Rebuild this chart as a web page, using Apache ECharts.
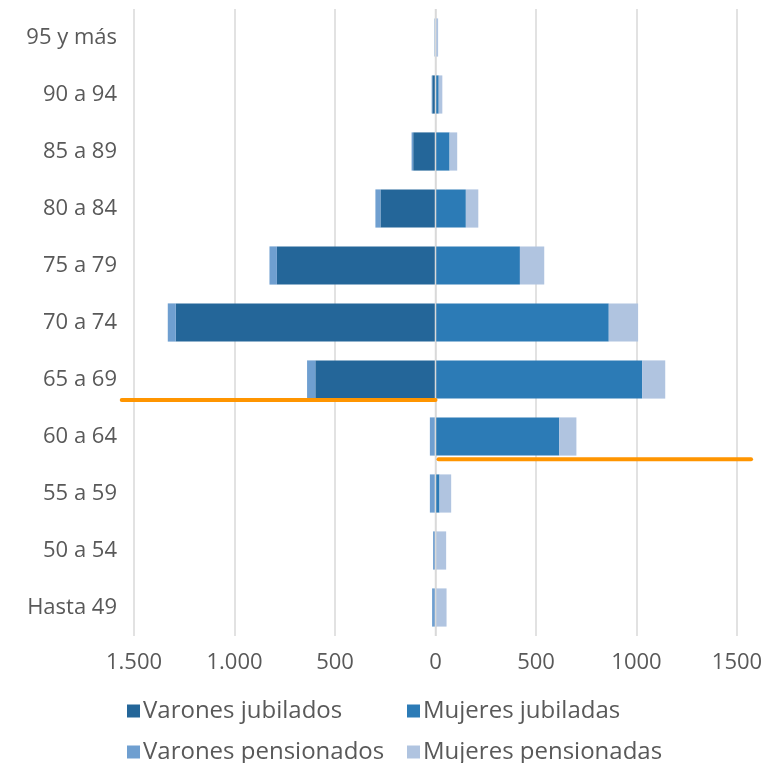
<!DOCTYPE html>
<html><head><meta charset="utf-8">
<script src="https://cdn.jsdelivr.net/npm/echarts@6/dist/echarts.min.js"></script>
<style>html,body{margin:0;padding:0;background:#fff}#c{width:767px;height:763px}</style>
</head><body><div id="c"></div>
<script>
const categories = ['95 y más','90 a 94','85 a 89','80 a 84','75 a 79','70 a 74','65 a 69','60 a 64','55 a 59','50 a 54','Hasta 49'];
const varonesJubilados = [0, 16, 111, 274, 789, 1292, 598, 3, 3, 2, 2];
const varonesPensionados = [5, 3, 8, 25, 37, 40, 41, 25, 25, 10, 15];
const mujeresJubiladas = [2, 16, 70, 151, 420, 862, 1028, 616, 20, 3, 3];
const mujeresPensionadas = [11, 18, 38, 62, 121, 146, 115, 85, 58, 50, 52];
const xTicks = {min: -1500, max: 1500, interval: 500};
// retirement-age reference lines: [x, rowPosition]
const lineVarones = [[-1561, 6.86], [0, 6.86]];
const lineMujeres = [[15, 7.90], [1570, 7.90]];
const centerLine = [[0, 0], [0, 11]];

const FONT = 'Open Sans';
const GREY = '#595959';
function legendAt(name, left, top) {
  return {left: left, top: top, padding: 0, itemWidth: 13, itemHeight: 13, itemGap: 0, icon: 'rect',
    textStyle: {fontFamily: FONT, fontSize: 24, color: GREY, lineHeight: 26, padding: [0, 0, 0, -2]}, data: [name]};
}
function refLine(pts) {
  return {type: 'custom', yAxisIndex: 1, data: pts, silent: true, z: 6,
    renderItem: function (params, api) {
      if (params.dataIndex !== 0) return null;
      const a = api.coord(pts[0]), b = api.coord(pts[1]);
      return {type: 'line', shape: {x1: a[0], y1: a[1], x2: b[0], y2: b[1]},
        style: {stroke: '#ff9500', lineWidth: 4, lineCap: 'round'}};
    }};
}
const chart = echarts.init(document.getElementById('c'));
chart.setOption({
  animation: false,
  grid: {left: 134, right: 30, top: 9, bottom: 127, containLabel: false},
  legend: [
    legendAt('Varones jubilados', 127, 698),
    legendAt('Mujeres jubiladas', 407, 698),
    legendAt('Varones pensionados', 127, 739),
    legendAt('Mujeres pensionadas', 407, 739)
  ],
  xAxis: {
    type: 'value', min: xTicks.min, max: xTicks.max, interval: xTicks.interval,
    axisLine: {show: false}, axisTick: {show: false},
    splitLine: {lineStyle: {color: '#d9d9d9', width: 1.5}},
    axisLabel: {fontFamily: FONT, fontSize: 22, color: GREY, margin: 16,
      formatter: v => v < 0 ? String(-v).replace(/\B(?=(\d{3})+(?!\d))/g, '.') : String(v)}
  },
  yAxis: [
    {type: 'category', data: categories, inverse: true,
     axisLine: {show: false}, axisTick: {show: false},
     axisLabel: {fontFamily: FONT, fontSize: 22, color: GREY, margin: 17, padding: [4, 0, 0, 0]}},
    {type: 'value', min: 0, max: 11, inverse: true, show: false}
  ],
  series: [
    {name: 'Varones jubilados', type: 'bar', stack: 'all', barCategoryGap: '33%',
     itemStyle: {color: '#246699'}, data: varonesJubilados.map(v => -v)},
    {name: 'Mujeres jubiladas', type: 'bar', stack: 'all',
     itemStyle: {color: '#2c7bb6'}, data: mujeresJubiladas},
    {name: 'Varones pensionados', type: 'bar', stack: 'all',
     itemStyle: {color: '#6f9fd0'}, data: varonesPensionados.map(v => -v)},
    {name: 'Mujeres pensionadas', type: 'bar', stack: 'all',
     itemStyle: {color: '#b0c4e0'}, data: mujeresPensionadas},
    {type: 'line', yAxisIndex: 1, data: centerLine, symbol: 'none', z: 5, silent: true,
     lineStyle: {color: '#d9d9d9', width: 1.5}},
    refLine(lineVarones),
    refLine(lineMujeres)
  ]
});
</script></body></html>
